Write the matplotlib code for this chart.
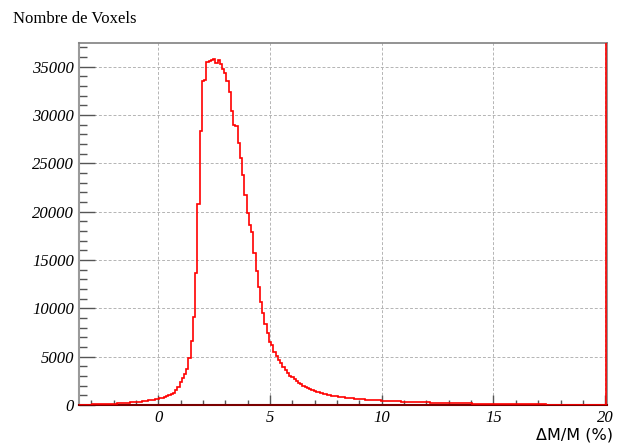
import numpy as np
import matplotlib
matplotlib.use("Agg")
import matplotlib.pyplot as plt
from matplotlib.ticker import MultipleLocator

# ---- data (histogram of dM/M, bin width 0.1, first bin centred at -3.5) ----
bin_start = -3.55
bin_width = 0.1
counts = [
    0, 10, 20, 30, 40,
    50, 60, 70, 75, 85, 95, 100, 110, 120, 130,
    140, 155, 165, 180, 195, 210, 230, 250, 270, 290,
    310, 335, 360, 385, 410, 440, 470, 500, 530, 570,
    640, 700, 760, 820, 900, 1000, 1100, 1270, 1550, 1890,
    2340, 2820, 3200, 3720, 4850, 6600, 9120, 13700, 20800, 28300,
    33500, 33600, 35440, 35550, 35650, 35750, 35380, 35720, 35270, 34800,
    34340, 33480, 32420, 30380, 29010, 28900, 27120, 25570, 23745, 21750,
    19890, 18580, 17890, 15760, 13870, 12210, 10660, 9470, 8430, 7400,
    6540, 6200, 5500, 5100, 4700, 4300, 3950, 3600, 3300, 3050,
    2850, 2650, 2500, 2300, 2150, 2000, 1850, 1750, 1620, 1530,
    1450, 1380, 1310, 1240, 1180, 1120, 1060, 1020, 970, 930,
    890, 860, 820, 790, 760, 730, 700, 680, 650, 630,
    610, 590, 575, 560, 545, 530, 515, 500, 485, 470,
    455, 445, 430, 420, 410, 400, 390, 380, 370, 360,
    350, 340, 330, 320, 312, 305, 298, 290, 282, 275,
    268, 260, 252, 246, 240, 234, 228, 222, 216, 210,
    205, 200, 195, 190, 185, 180, 175, 170, 166, 162,
    158, 154, 150, 146, 142, 138, 134, 130, 126, 122,
    118, 115, 112, 109, 106, 103, 100, 97, 94, 91,
    88, 85, 82, 79, 76, 73, 70, 67, 64, 61,
    58, 56, 54, 52, 50, 48, 46, 44, 42, 40,
    38, 37, 36, 35, 34, 33, 32, 31, 30, 29,
    28, 27, 26, 25, 24, 23, 22, 21, 20, 19,
    18,
]
overflow = 150000  # clipped values piled up past the last bin

x_ticks = [0, 5, 10, 15, 20]
y_ticks = [0, 5000, 10000, 15000, 20000, 25000, 30000, 35000]
y_title = "Nombre de Voxels"
x_title = "ΔM/M (%)"

# ---- figure ----
fig = plt.figure(figsize=(6.18, 4.46), dpi=100)
ax = fig.add_axes([79 / 618, 41 / 446, 528 / 618, 362 / 446])

all_counts = np.array(counts + [overflow], dtype=float)
edges = bin_start + bin_width * np.arange(len(all_counts) + 1)
ax.stairs(all_counts, edges, color="#ff0000", linewidth=1.2, baseline=0, zorder=3)

ax.set_xlim(-3.55, 20.08)
ax.set_ylim(0, 37450)

ax.set_xticks(x_ticks)
ax.set_yticks(y_ticks)
ax.xaxis.set_minor_locator(MultipleLocator(1))
ax.yaxis.set_minor_locator(MultipleLocator(1000))

ax.grid(True, which="major", linestyle=(0, (3, 2)), linewidth=0.7, color="#b4b4b4", zorder=0)

tick_font = dict(family="Liberation Serif", style="italic", size=12)
ax.set_xticklabels([str(v) for v in x_ticks], fontdict=tick_font)
ax.set_yticklabels([str(v) for v in y_ticks], fontdict=tick_font)

ax.tick_params(axis="x", which="major", direction="in", length=7.2, width=1.0, color="#555555", pad=3.5)
ax.tick_params(axis="x", which="minor", direction="in", length=3.6, width=1.0, color="#555555")
ax.tick_params(axis="y", which="major", direction="in", length=11.5, width=1.0, color="#555555", pad=3.5)
ax.tick_params(axis="y", which="minor", direction="in", length=5.8, width=1.0, color="#555555")

for side in ("top", "right"):
    ax.spines[side].set_color("#808080")
    ax.spines[side].set_linewidth(1.2)
ax.spines["left"].set_color("#9a9a9a")
ax.spines["left"].set_linewidth(1.5)
ax.spines["bottom"].set_color("#7a0000")
ax.spines["bottom"].set_linewidth(1.5)

fig.text(13 / 618, 1 - 23 / 446, y_title, family="Liberation Serif", size=12,
         ha="left", va="baseline")
fig.text(613 / 618, 1 - 440 / 446, x_title, family="DejaVu Sans", size=11.5,
         ha="right", va="baseline")

fig.savefig("out.png", dpi=100)
